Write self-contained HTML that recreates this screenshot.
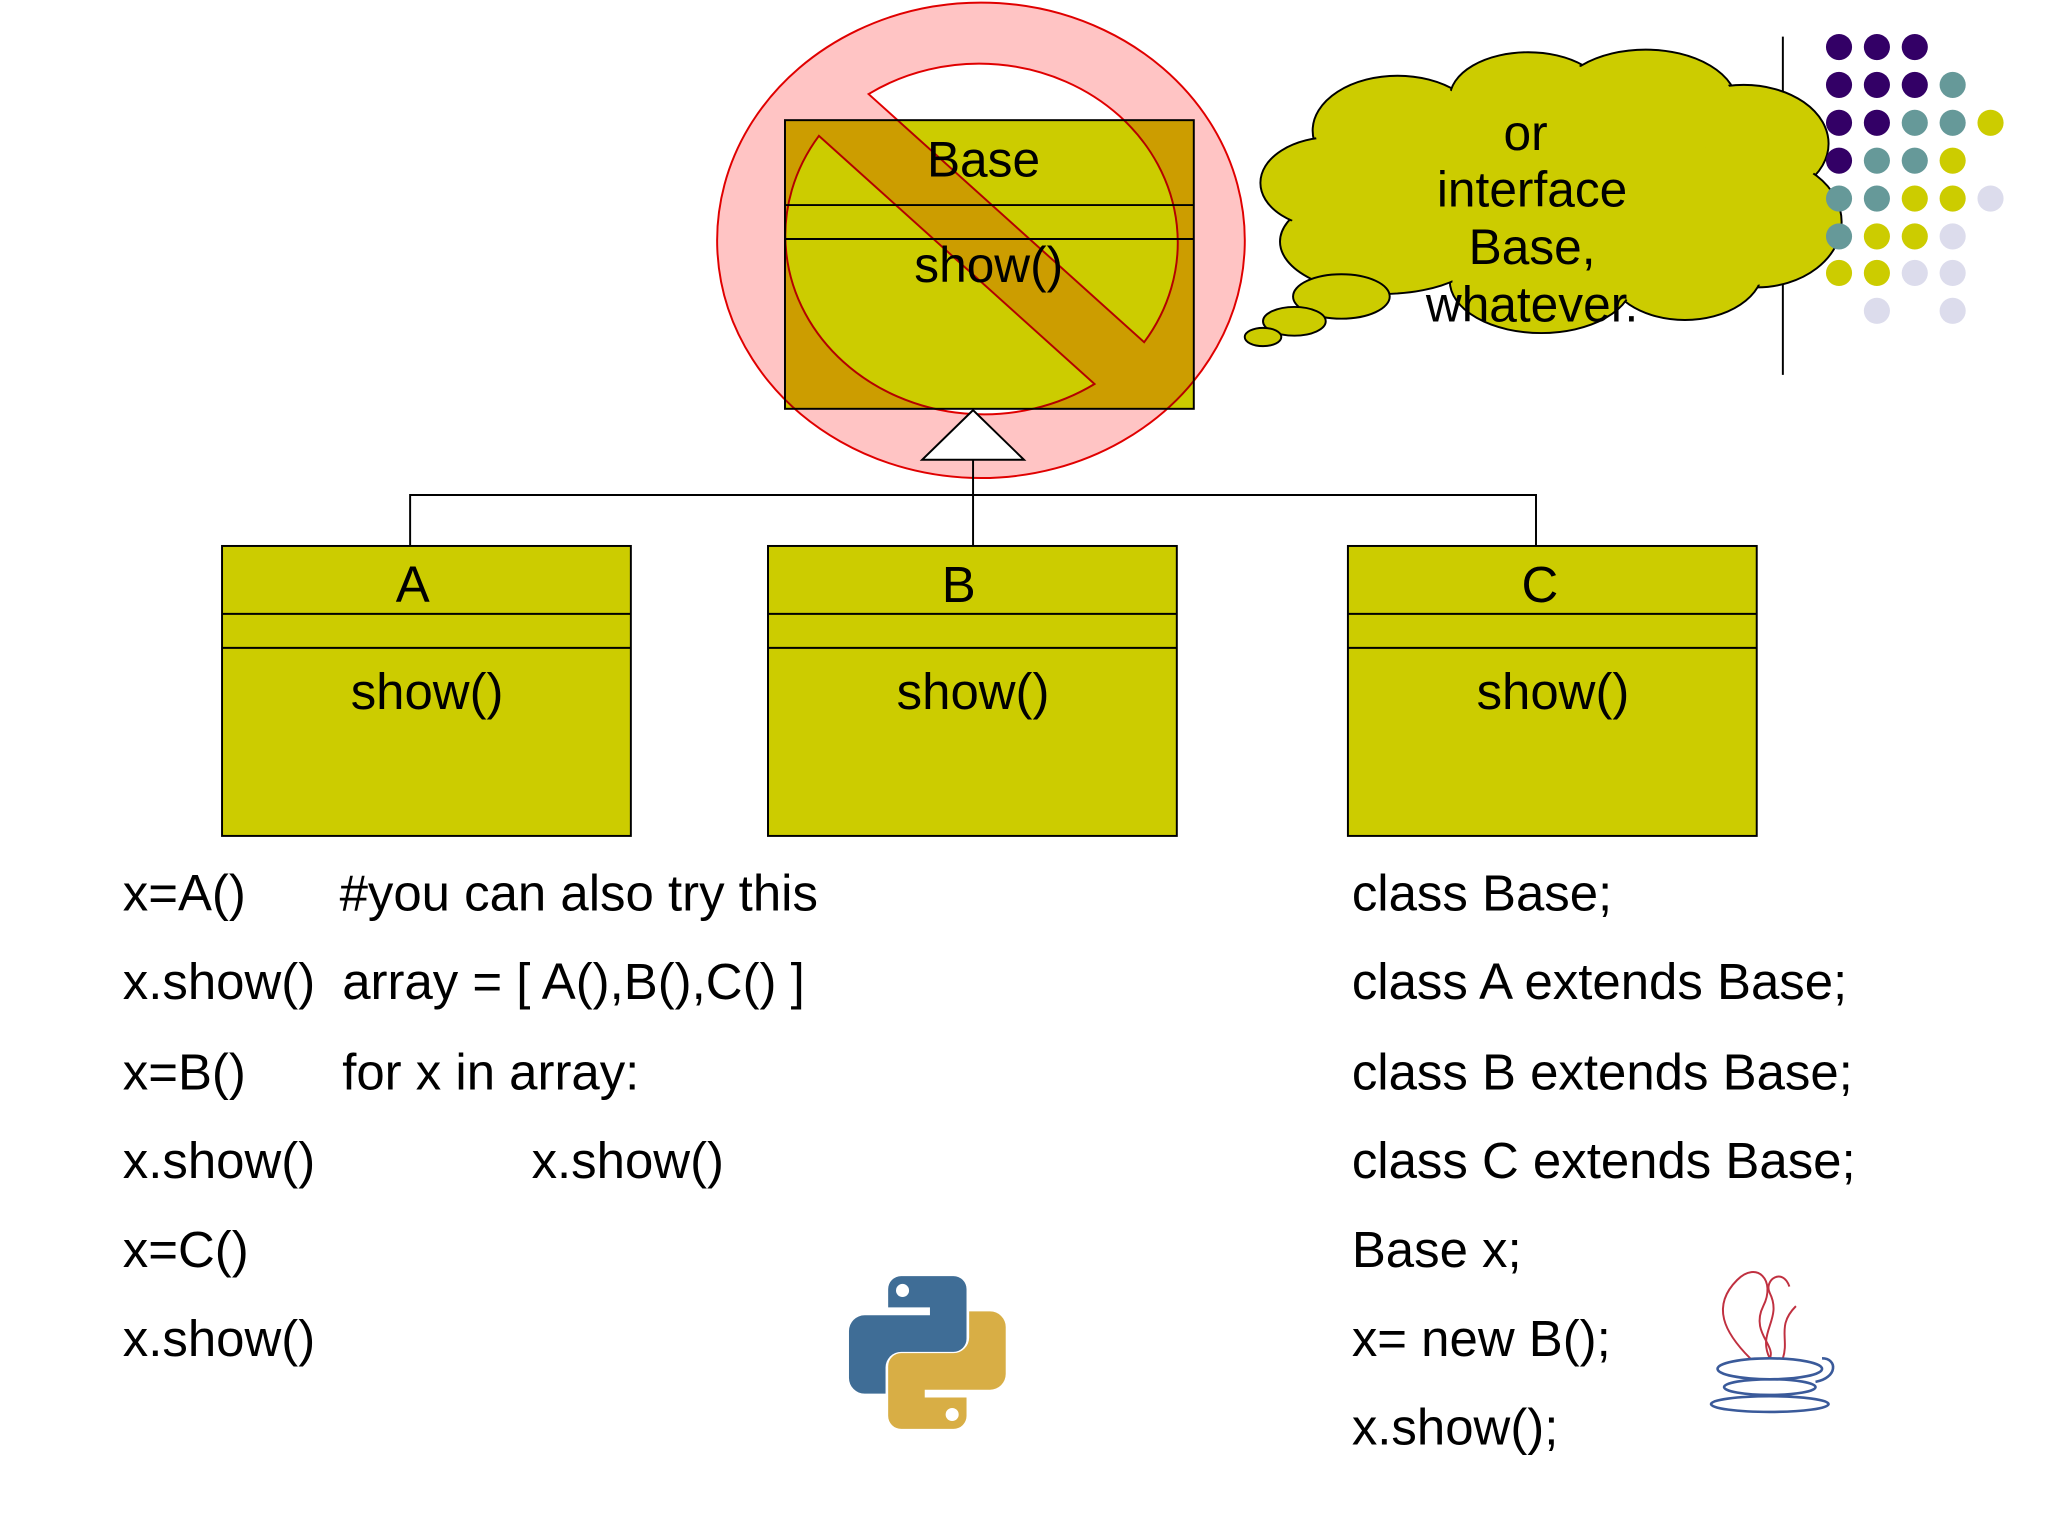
<!DOCTYPE html>
<html><head><style>html,body{margin:0;padding:0;background:#fff}svg{display:block}text{font-family:"Liberation Sans",sans-serif;fill:#000}</style></head>
<body>
<svg width="2048" height="1536" viewBox="0 0 1568 1176" xmlns="http://www.w3.org/2000/svg">
<!-- Base box -->
<rect x="601" y="92" width="313" height="221" fill="#cccc00" stroke="#000" stroke-width="1.5"/>
<line x1="601" y1="157" x2="914" y2="157" stroke="#000" stroke-width="1.5"/>
<line x1="601" y1="183" x2="914" y2="183" stroke="#000" stroke-width="1.5"/>
<!-- prohibition sign -->
<path fill-rule="evenodd" fill="#ffc4c4" style="mix-blend-mode:multiply" stroke="#e00000" stroke-width="1.5" d="M751,2 a202,182 0 1,0 0.1,0 Z M665,72 L876,262 A152,137 0 0,0 665,72 Z M627,104 L838,294 A152,137 0 0,1 627,104 Z"/>
<text x="753" y="135" font-size="38" text-anchor="middle">Base</text>
<text x="757" y="216" font-size="38" text-anchor="middle">show()</text>
<!-- inheritance -->
<polygon points="745,314 706,352 784,352" fill="#fff" stroke="#000" stroke-width="1.5"/>
<path d="M745,352 V418 M314,418 V379 H1176 V418" fill="none" stroke="#000" stroke-width="1.5"/>
<!-- A B C -->
<g stroke="#000" stroke-width="1.5" fill="#cccc00">
<rect x="170" y="418" width="313" height="222"/><line x1="170" y1="470" x2="483" y2="470"/><line x1="170" y1="496" x2="483" y2="496"/>
<rect x="588" y="418" width="313" height="222"/><line x1="588" y1="470" x2="901" y2="470"/><line x1="588" y1="496" x2="901" y2="496"/>
<rect x="1032" y="418" width="313" height="222"/><line x1="1032" y1="470" x2="1345" y2="470"/><line x1="1032" y1="496" x2="1345" y2="496"/>
</g>
<g font-size="39" text-anchor="middle">
<text x="316" y="461">A</text><text x="327" y="543">show()</text>
<text x="734" y="461">B</text><text x="745" y="543">show()</text>
<text x="1179" y="461">C</text><text x="1189" y="543">show()</text>
</g>
<line x1="1365" y1="28" x2="1365" y2="287" stroke="#000" stroke-width="1.5"/>
<!-- cloud -->
<g fill="#cccc00" stroke="#000" stroke-width="1.5">
<ellipse cx="1070" cy="100" rx="65" ry="42"/>
<ellipse cx="1170" cy="75" rx="60" ry="35"/>
<ellipse cx="1260" cy="80" rx="70" ry="42"/>
<ellipse cx="1335" cy="110" rx="65" ry="45"/>
<ellipse cx="1345" cy="170" rx="65" ry="50"/>
<ellipse cx="1290" cy="205" rx="60" ry="40"/>
<ellipse cx="1180" cy="215" rx="70" ry="40"/>
<ellipse cx="1060" cy="185" rx="80" ry="40"/>
<ellipse cx="1020" cy="140" rx="55" ry="35"/>
</g>
<g fill="#cccc00">
<ellipse cx="1070" cy="100" rx="63" ry="40"/>
<ellipse cx="1170" cy="75" rx="58" ry="33"/>
<ellipse cx="1260" cy="80" rx="68" ry="40"/>
<ellipse cx="1335" cy="110" rx="63" ry="43"/>
<ellipse cx="1345" cy="170" rx="63" ry="48"/>
<ellipse cx="1290" cy="205" rx="58" ry="38"/>
<ellipse cx="1180" cy="215" rx="68" ry="38"/>
<ellipse cx="1060" cy="185" rx="78" ry="38"/>
<ellipse cx="1020" cy="140" rx="53" ry="33"/>
<ellipse cx="1170" cy="145" rx="150" ry="75"/>
</g>
<g fill="#cccc00" stroke="#000" stroke-width="1.5">
<ellipse cx="1027" cy="227" rx="37" ry="17"/>
<ellipse cx="991" cy="246" rx="24" ry="11"/>
<ellipse cx="967" cy="258" rx="14" ry="7"/>
</g>
<g font-size="38" text-anchor="middle">
<text x="1168" y="115">or</text>
<text x="1173" y="158">interface</text>
<text x="1173" y="202">Base,</text>
<text x="1173" y="246">whatever.</text>
</g>
<!-- dots -->
<g>
<circle cx="1408" cy="36" r="10" fill="#330066"/><circle cx="1437" cy="36" r="10" fill="#330066"/><circle cx="1466" cy="36" r="10" fill="#330066"/>
<circle cx="1408" cy="65" r="10" fill="#330066"/><circle cx="1437" cy="65" r="10" fill="#330066"/><circle cx="1466" cy="65" r="10" fill="#330066"/><circle cx="1495" cy="65" r="10" fill="#669999"/>
<circle cx="1408" cy="94" r="10" fill="#330066"/><circle cx="1437" cy="94" r="10" fill="#330066"/><circle cx="1466" cy="94" r="10" fill="#669999"/><circle cx="1495" cy="94" r="10" fill="#669999"/><circle cx="1524" cy="94" r="10" fill="#cccc00"/>
<circle cx="1408" cy="123" r="10" fill="#330066"/><circle cx="1437" cy="123" r="10" fill="#669999"/><circle cx="1466" cy="123" r="10" fill="#669999"/><circle cx="1495" cy="123" r="10" fill="#cccc00"/>
<circle cx="1408" cy="152" r="10" fill="#669999"/><circle cx="1437" cy="152" r="10" fill="#669999"/><circle cx="1466" cy="152" r="10" fill="#cccc00"/><circle cx="1495" cy="152" r="10" fill="#cccc00"/><circle cx="1524" cy="152" r="10" fill="#dcdcec"/>
<circle cx="1408" cy="181" r="10" fill="#669999"/><circle cx="1437" cy="181" r="10" fill="#cccc00"/><circle cx="1466" cy="181" r="10" fill="#cccc00"/><circle cx="1495" cy="181" r="10" fill="#dcdcec"/>
<circle cx="1408" cy="209" r="10" fill="#cccc00"/><circle cx="1437" cy="209" r="10" fill="#cccc00"/><circle cx="1466" cy="209" r="10" fill="#dcdcec"/><circle cx="1495" cy="209" r="10" fill="#dcdcec"/>
<circle cx="1437" cy="238" r="10" fill="#dcdcec"/><circle cx="1495" cy="238" r="10" fill="#dcdcec"/>
</g>
<!-- code text -->
<g font-size="39">
<text x="94" y="697">x=A()</text><text x="260" y="697">#you can also try this</text>
<text x="94" y="765">x.show()</text><text x="262" y="765">array = [ A(),B(),C() ]</text>
<text x="94" y="834">x=B()</text><text x="262" y="834">for x in array:</text>
<text x="94" y="902">x.show()</text><text x="407" y="902">x.show()</text>
<text x="94" y="970">x=C()</text>
<text x="94" y="1038">x.show()</text>
<text x="1035" y="697">class Base;</text>
<text x="1035" y="765">class A extends Base;</text>
<text x="1035" y="834">class B extends Base;</text>
<text x="1035" y="902">class C extends Base;</text>
<text x="1035" y="970">Base x;</text>
<text x="1035" y="1038">x= new B();</text>
<text x="1035" y="1106">x.show();</text>
</g>
<!-- python logo -->
<path d="M708,977 h22 a10,10 0 0,1 10,10 v38 a10,10 0 0,1 -10,10 h-40 a12,12 0 0,0 -12,12 v20 h-16 a12,12 0 0,1 -12,-12 v-36 a12,12 0 0,1 12,-12 h50 v-6 h-32 v-14 a10,10 0 0,1 10,-10 z" fill="#3f6d96"/>
<circle cx="691" cy="988" r="5" fill="#fff"/>
<path d="M712,1094 h-22 a10,10 0 0,1 -10,-10 v-38 a10,10 0 0,1 10,-10 h40 a12,12 0 0,0 12,-12 v-20 h16 a12,12 0 0,1 12,12 v36 a12,12 0 0,1 -12,12 h-50 v6 h32 v14 a10,10 0 0,1 -10,10 z" fill="#d8ae45"/>
<circle cx="729" cy="1083" r="5" fill="#fff"/>
<!-- java logo -->
<g fill="none" stroke="#c03040" stroke-width="1.5">
<path d="M1340,1040 c-20,-20 -30,-40 -10,-60 c15,-15 30,0 20,20 c-10,20 10,30 5,40"/>
<path d="M1355,1040 c-10,-20 10,-30 0,-50 c-5,-10 10,-20 15,-5"/>
<path d="M1365,1040 c5,-15 -5,-25 10,-40"/>
</g>
<g fill="none" stroke="#3a5a9a" stroke-width="2">
<ellipse cx="1355" cy="1048" rx="40" ry="8"/>
<ellipse cx="1355" cy="1062" rx="35" ry="6"/>
<ellipse cx="1355" cy="1075" rx="45" ry="6"/>
<path d="M1395,1040 c12,0 12,15 -5,18"/>
</g>
</svg>
</body></html>
